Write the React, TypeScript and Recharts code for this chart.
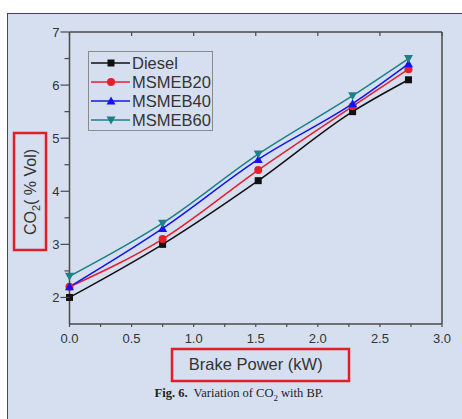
import React from 'react';
import { LineChart, Line, XAxis, YAxis, Legend } from 'recharts';

const bp = [0, 0.75, 1.52, 2.28, 2.73];
const diesel = [2.0, 3.0, 4.2, 5.5, 6.1];
const msmeb20 = [2.2, 3.1, 4.4, 5.6, 6.3];
const msmeb40 = [2.2, 3.3, 4.6, 5.65, 6.4];
const msmeb60 = [2.4, 3.4, 4.7, 5.8, 6.5];

const xTicks = [0, 0.25, 0.5, 0.75, 1, 1.25, 1.5, 1.75, 2, 2.25, 2.5, 2.75, 3];
const xTopTicks = [0, 0.5, 1, 1.5, 2, 2.5, 3];
const yTicks = [2, 2.5, 3, 3.5, 4, 4.5, 5, 5.5, 6, 6.5, 7];

const data = bp.map((x, i) => ({
  bp: x,
  diesel: diesel[i],
  msmeb20: msmeb20[i],
  msmeb40: msmeb40[i],
  msmeb60: msmeb60[i],
}));

const series = [
  { key: 'diesel', name: 'Diesel', color: '#111111', marker: 'square' },
  { key: 'msmeb20', name: 'MSMEB20', color: '#e3202c', marker: 'circle' },
  { key: 'msmeb40', name: 'MSMEB40', color: '#1414f0', marker: 'up' },
  { key: 'msmeb60', name: 'MSMEB60', color: '#1d8088', marker: 'down' },
];

const axisColor = '#4a4a4a';
const textColor = '#333';
const font = '"Liberation Sans", Arial, sans-serif';
const panelBg = '#d6dff0';

const Marker = ({ cx, cy, type, color }: any) => {
  if (cx == null || cy == null) return null;
  if (type === 'square') return <rect x={cx - 3.5} y={cy - 3.5} width={7} height={7} fill={color} />;
  if (type === 'circle') return <circle cx={cx} cy={cy} r={4} fill={color} />;
  if (type === 'up')
    return <polygon points={`${cx},${cy - 4.5} ${cx - 4.5},${cy + 3.5} ${cx + 4.5},${cy + 3.5}`} fill={color} />;
  return <polygon points={`${cx},${cy + 4.5} ${cx - 4.5},${cy - 3.5} ${cx + 4.5},${cy - 3.5}`} fill={color} />;
};

const LeftTick = ({ x, y, payload }: any) => {
  const major = Number.isInteger(payload.value);
  return (
    <g>
      <line x1={x - (major ? 9 : 5)} x2={x} y1={y} y2={y} stroke={axisColor} strokeWidth={1.2} />
      {major && (
        <text x={x - 10} y={y} dy={4.5} textAnchor="end" fontSize={13} fill={textColor} fontFamily={font}>
          {payload.value}
        </text>
      )}
    </g>
  );
};

const RightTick = ({ x, y, payload }: any) => {
  const major = Number.isInteger(payload.value);
  return <line x1={x - (major ? 7 : 4)} x2={x} y1={y} y2={y} stroke={axisColor} strokeWidth={1.2} />;
};

const BottomTick = ({ x, y, payload }: any) => {
  const major = Math.abs(payload.value * 2 - Math.round(payload.value * 2)) < 1e-6;
  return (
    <g>
      <line x1={x} x2={x} y1={y} y2={y + 3} stroke={axisColor} strokeWidth={1.2} />
      {major && (
        <text x={x} y={y + 19} textAnchor="middle" fontSize={13} fill={textColor} fontFamily={font}>
          {payload.value.toFixed(1)}
        </text>
      )}
    </g>
  );
};

const TopTick = ({ x, y }: any) => (
  <line x1={x} x2={x} y1={y} y2={y + 4} stroke={axisColor} strokeWidth={1.2} />
);

const YTitle = ({ viewBox }: any) => {
  const vb = viewBox || { x: 9.5, y: 32 };
  const cx = vb.x + 21;
  const cy = vb.y + 160;
  return (
    <g>
      <rect x={vb.x + 4.5} y={vb.y + 101} width={32} height={117} fill="none" stroke="#e01f2d" strokeWidth={2.5} />
      <text
        x={cx}
        y={cy}
        transform={`rotate(-90 ${cx} ${cy})`}
        textAnchor="middle"
        dy={5}
        fontSize={16}
        fill={textColor}
        fontFamily={font}
      >
        CO
        <tspan fontSize={11} dy={4}>2</tspan>
        <tspan dy={-4}>( % Vol)</tspan>
      </text>
    </g>
  );
};

const XTitle = ({ viewBox }: any) => {
  const vb = viewBox || { x: 69.5, y: 324, width: 372.5 };
  return (
    <g>
      <rect x={vb.x + 102.5} y={vb.y + 25} width={177} height={32} fill="none" stroke="#e01f2d" strokeWidth={2.5} />
      <text
        x={vb.x + vb.width / 2}
        y={vb.y + 46}
        textAnchor="middle"
        fontSize={16.5}
        fill={textColor}
        fontFamily={font}
      >
        Brake Power (kW)
      </text>
    </g>
  );
};

const LegendBox = () => (
  <div
    style={{
      border: '1px solid #8a8a8a',
      padding: '1px 2px 1px 1px',
      fontFamily: font,
      fontSize: 16.5,
      color: textColor,
      width: 125,
      boxSizing: 'border-box',
    }}
  >
    {series.map((s) => (
      <div key={s.key} style={{ display: 'flex', alignItems: 'center', height: 19 }}>
        <svg width={42} height={18} style={{ flex: 'none' }}>
          <line x1={1} x2={40} y1={9} y2={9} stroke={s.color} strokeWidth={1.5} />
          <Marker cx={21} cy={9} type={s.marker} color={s.color} />
        </svg>
        <span style={{ lineHeight: '18px', whiteSpace: 'nowrap' }}>{s.name}</span>
      </div>
    ))}
  </div>
);

export default function App() {
  return (
    <div style={{ position: 'absolute', left: 0, top: 0, width: 462, height: 419, background: '#fff', overflow: 'hidden' }}>
      <div
        style={{
          position: 'absolute',
          left: 7,
          top: 13,
          width: 470,
          height: 420,
          background: panelBg,
          borderTop: '1.5px solid #2c4a8a',
          borderLeft: '1.5px solid #2c4a8a',
        }}
      />
      <div style={{ position: 'absolute', left: 0, top: 0 }}>
        <LineChart width={462} height={419} data={data} margin={{ top: 31, right: 19, bottom: 65, left: 9.5 }}>
          <XAxis
            xAxisId="b"
            dataKey="bp"
            type="number"
            domain={[0, 3]}
            ticks={xTicks}
            interval={0}
            height={30}
            tickSize={0}
            tickMargin={0}
            tickLine={false}
            tick={<BottomTick />}
            stroke={axisColor}
            strokeWidth={1.5}
            label={<XTitle />}
          />
          <XAxis
            xAxisId="t"
            orientation="top"
            dataKey="bp"
            type="number"
            domain={[0, 3]}
            ticks={xTopTicks}
            interval={0}
            height={1}
            tickSize={0}
            tickMargin={0}
            tickLine={false}
            tick={<TopTick />}
            stroke={axisColor}
            strokeWidth={1.5}
          />
          <YAxis
            yAxisId="l"
            type="number"
            domain={[1.5, 7]}
            ticks={yTicks}
            interval={0}
            width={60}
            tickSize={0}
            tickMargin={0}
            tickLine={false}
            tick={<LeftTick />}
            stroke={axisColor}
            strokeWidth={1.5}
            label={<YTitle />}
          />
          <YAxis
            yAxisId="r"
            orientation="right"
            type="number"
            domain={[1.5, 7]}
            ticks={yTicks}
            interval={0}
            width={1}
            tickSize={0}
            tickMargin={0}
            tickLine={false}
            tick={<RightTick />}
            stroke={axisColor}
            strokeWidth={1.5}
          />
          <Legend
            layout="vertical"
            align="center"
            verticalAlign="middle"
            wrapperStyle={{ left: 88, top: 51, width: 'auto' }}
            content={<LegendBox />}
          />
          {series.map((s) => (
            <Line
              key={s.key}
              xAxisId="b"
              yAxisId="l"
              type="monotone"
              dataKey={s.key}
              name={s.name}
              stroke={s.color}
              strokeWidth={1.5}
              isAnimationActive={false}
              dot={(p: any) => <Marker key={`${s.key}-${p.index}`} cx={p.cx} cy={p.cy} type={s.marker} color={s.color} />}
              activeDot={false}
            />
          ))}
        </LineChart>
      </div>
      <div
        style={{
          position: 'absolute',
          left: 0,
          top: 386,
          width: 478,
          textAlign: 'center',
          fontFamily: '"Liberation Serif", "Times New Roman", serif',
          fontSize: 12.5,
          color: '#222',
        }}
      >
        <b>Fig. 6.</b>&nbsp; Variation of CO<sub style={{ fontSize: 9 }}>2</sub> with BP.
      </div>
    </div>
  );
}
